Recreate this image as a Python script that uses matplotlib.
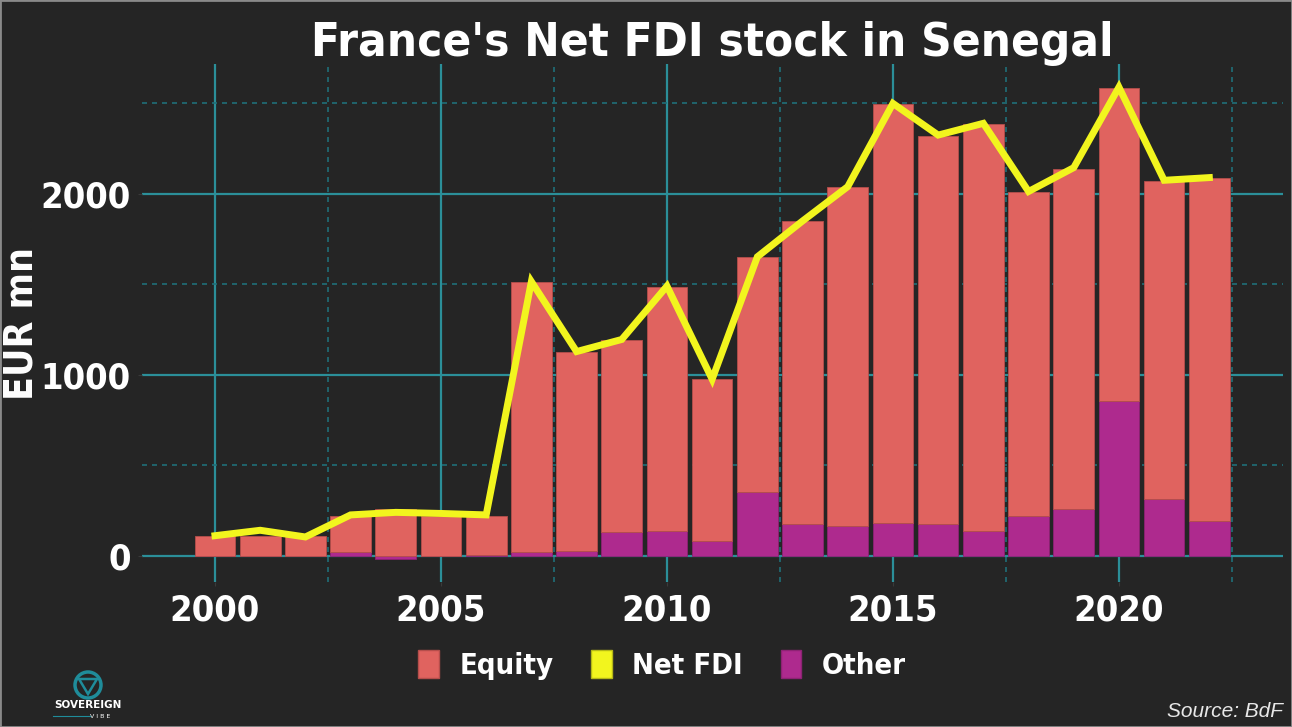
import numpy as np
import matplotlib
matplotlib.use("Agg")
import matplotlib.pyplot as plt
from matplotlib import font_manager as fm
from matplotlib.patches import Patch, Rectangle, Ellipse, Polygon

# ---- data (EUR mn) ----
years = np.arange(2000, 2023)
equity = [110, 110, 107, 201, 258, 221, 216, 1492, 1097, 1063, 1347, 892,
          1298, 1674, 1878, 2314, 2143, 2247, 1793, 1882, 1730, 1759, 1893]
other = [0, 0, 0, 20, -18, 0, 5, 20, 28, 128, 138, 83,
         354, 177, 162, 182, 177, 138, 220, 256, 856, 313, 192]
net_fdi = [110, 140, 103, 225, 239, 233, 225, 1515, 1128, 1195, 1490, 975,
           1652, 1850, 2040, 2500, 2325, 2390, 2013, 2145, 2590, 2075, 2090]

x_major = [2000, 2005, 2010, 2015, 2020]
x_minor = [2002.5, 2007.5, 2012.5, 2017.5, 2022.5]
y_major = [0, 1000, 2000]
y_minor = [500, 1500, 2500]

BG = "#252525"
C_EQ = "#e0635f"
C_OT = "#ae2a8e"
C_NET = "#f2f51e"
C_GRID = "#2b8f99"
C_GRID_MIN = "#1f6f78"
TEAL = "#1f8c9a"

# condensed bold font if we have one
names = {f.name for f in fm.fontManager.ttflist}
COND = "Liberation Sans Narrow" if "Liberation Sans Narrow" in names else "DejaVu Sans"
cond = dict(family=COND, fontweight="bold", fontstretch="condensed", color="white")

W, H = 1292, 727
fig = plt.figure(figsize=(W / 100, H / 100), dpi=100, facecolor=BG)
ax = fig.add_axes([142 / W, 1 - 582 / H, (1283 - 142) / W, (582 - 64) / H])
ax.set_facecolor(BG)

equity = np.array(equity)
other = np.array(other)
eq_bottom = np.where(other > 0, other, 0)

ax.bar(years, other, width=0.9, color=C_OT, edgecolor="#8e2274", linewidth=0.6, zorder=2)
ax.bar(years, equity, bottom=eq_bottom, width=0.9, color=C_EQ,
       edgecolor="#b54e4b", linewidth=0.6, zorder=2)
ax.plot(years, net_fdi, color=C_NET, lw=5, solid_joinstyle="miter", zorder=3)

ax.set_xlim(1998.385, 2023.63)
ax.set_ylim(-146, 2718)

ax.set_xticks(x_major)
ax.set_xticks(x_minor, minor=True)
ax.set_yticks(y_major)
ax.set_yticks(y_minor, minor=True)
ax.set_axisbelow(True)
ax.grid(which="major", color=C_GRID, lw=1.6)
ax.grid(which="minor", color=C_GRID_MIN, lw=1.2, ls=(0, (3, 3)))

for s in ax.spines.values():
    s.set_visible(False)
ax.tick_params(which="major", length=3, color="#3a3a3a", pad=5)
ax.tick_params(which="minor", length=0)
for lab in ax.get_xticklabels() + ax.get_yticklabels():
    lab.set_fontsize(26)
    lab.set_fontfamily(COND)
    lab.set_fontweight("bold")
    lab.set_fontstretch("condensed")
    lab.set_color("white")

ax.set_ylabel("EUR mn", fontsize=28, **cond)
ax.yaxis.set_label_coords((40 - 142) / (1283 - 142), (582 - 323) / (582 - 64))

fig.text(712 / W, 1 - 56 / H, "France's Net FDI stock in Senegal",
         ha="center", va="baseline", fontsize=34, **cond)

handles = [Patch(facecolor=C_EQ, edgecolor="#b54e4b"),
           Patch(facecolor=C_NET, edgecolor="#b5b816"),
           Patch(facecolor=C_OT, edgecolor="#8e2274")]
leg = fig.legend(handles, ["Equity", "Net FDI", "Other"], loc="center",
                 bbox_to_anchor=(662 / W, 1 - 665 / H), ncol=3, frameon=False,
                 handlelength=0.7, handleheight=1.1, handletextpad=0.7,
                 columnspacing=1.3,
                 prop=dict(family=COND, weight="bold", stretch="condensed", size=21))
for t in leg.get_texts():
    t.set_color("white")

fig.text(1283 / W, 1 - 717 / H, "Source: BdF", ha="right", va="baseline",
         fontsize=15, style="italic", family="Liberation Sans", color="#e8e8e8")

# small logo, bottom left
cx, cy = 88, 685
fig.patches.append(Ellipse((cx / W, 1 - cy / H), 26 / W, 26 / H, transform=fig.transFigure,
                           facecolor="none", edgecolor=TEAL, lw=2.5))
fig.patches.append(Polygon([((cx - 9) / W, 1 - (cy - 6) / H), ((cx + 9) / W, 1 - (cy - 6) / H),
                            (cx / W, 1 - (cy + 9) / H)], closed=True, transform=fig.transFigure,
                           facecolor="none", edgecolor=TEAL, lw=1.8))
fig.text(cx / W, 1 - 708 / H, "SOVEREIGN", ha="center", va="baseline",
         fontsize=7.5, fontweight="bold", color="white", family="DejaVu Sans")
fig.text(100 / W, 1 - 718 / H, "V I B E", ha="center", va="baseline",
         fontsize=4.5, color="white", family="DejaVu Sans")
fig.lines.append(plt.Line2D([53 / W, 90 / W], [1 - 716 / H, 1 - 716 / H],
                            transform=fig.transFigure, color=TEAL, lw=0.8))

fig.patches.append(Rectangle((0, 0), 1, 1, transform=fig.transFigure, fill=False,
                             edgecolor="#8a8a8a", lw=2))

fig.savefig("out.png", dpi=100, facecolor=BG)
